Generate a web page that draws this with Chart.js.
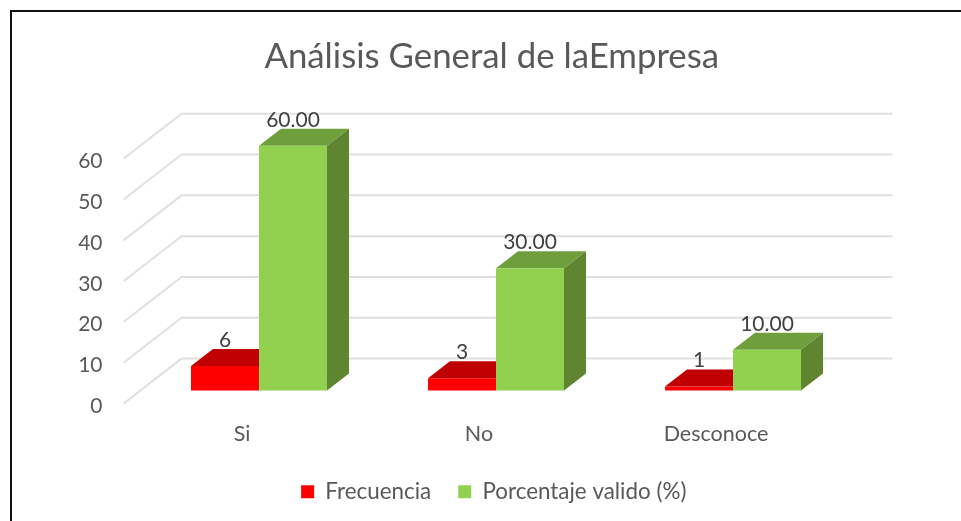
<!DOCTYPE html>
<html>
<head>
<meta charset="utf-8">
<style>
  html, body { margin: 0; padding: 0; background: #fff; overflow: hidden; }
  #frame { position: absolute; left: 10px; top: 10px; right: 0; bottom: 0; border-top: 2px solid #111; border-left: 2px solid #111; }
  #chart { position: absolute; left: 0; top: 0; filter: blur(0.4px); }
</style>
<script src="https://cdn.jsdelivr.net/npm/chart.js@4/dist/chart.umd.min.js"></script>
</head>
<body>
<canvas id="chart" width="961" height="521"></canvas>
<div id="frame"></div>
<script>
const titleText = 'Análisis General de laEmpresa';
const categories = ['Si', 'No', 'Desconoce'];
const frecuencia = [6, 3, 1];
const porcentaje = [60, 30, 10];
const frecuenciaLabels = ['6', '3', '1'];
const porcentajeLabels = ['60.00', '30.00', '10.00'];

const FONT = 'Lato, sans-serif';
const TEXT = '#595959';

// fake 3D: the axes sit on the front plane, the bars halfway into the depth
const WALL = { x: 58, y: -45 };
const BAR_SHIFT = { x: 17, y: -13 };
const BAR_DEPTH = { x: 22, y: -17 };
const faces = [
  { top: '#c00000', side: '#a00000' },
  { top: '#6f9f3c', side: '#5f8530' },
];

const poly = (ctx, points, color) => {
  ctx.fillStyle = color;
  ctx.beginPath();
  points.forEach(([x, y], i) => (i ? ctx.lineTo(x, y) : ctx.moveTo(x, y)));
  ctx.closePath();
  ctx.fill();
};

const bars3d = {
  id: 'bars3d',
  afterLayout(chart) {
    // title and legend are not centred on the canvas in the original
    chart.titleBlock.left += 74.5;
    chart.titleBlock.right += 74.5;
    chart.legend.left += 76.5;
    chart.legend.right += 76.5;
  },
  beforeDatasetsDraw(chart) {
    const { ctx, chartArea, scales } = chart;
    ctx.save();
    ctx.strokeStyle = '#e0e0e0';
    ctx.lineWidth = 2;
    scales.y.ticks.forEach((tick) => {
      const y = scales.y.getPixelForValue(tick.value);
      ctx.beginPath();
      ctx.moveTo(chartArea.left, y);
      ctx.lineTo(chartArea.left + WALL.x, y + WALL.y);
      ctx.lineTo(chartArea.right + WALL.x, y + WALL.y);
      ctx.stroke();
    });
    ctx.restore();
    ctx.save();
    ctx.translate(BAR_SHIFT.x, BAR_SHIFT.y);
    // all depth faces go first, the front faces of the bars cover them
    chart.data.datasets.forEach((ds, i) => {
      const face = faces[i];
      chart.getDatasetMeta(i).data.forEach((bar) => {
        const l = bar.x - bar.width / 2;
        const r = bar.x + bar.width / 2;
        const dx = BAR_DEPTH.x;
        const dy = BAR_DEPTH.y;
        poly(ctx, [[l, bar.y], [l + dx, bar.y + dy], [r + dx, bar.y + dy], [r, bar.y]], face.top);
        poly(ctx, [[r, bar.y], [r + dx, bar.y + dy], [r + dx, bar.base + dy], [r, bar.base]], face.side);
      });
    });
  },
  afterDatasetsDraw(chart) {
    const { ctx } = chart;
    ctx.font = '21px ' + FONT;
    ctx.fillStyle = '#404040';
    ctx.textAlign = 'center';
    ctx.textBaseline = 'middle';
    chart.data.datasets.forEach((ds, i) => {
      chart.getDatasetMeta(i).data.forEach((bar, j) => {
        ctx.fillText(ds.valueLabels[j], bar.x, bar.y - 26);
      });
    });
    ctx.restore();
  },
};

new Chart(document.getElementById('chart'), {
  type: 'bar',
  data: {
    labels: categories,
    datasets: [
      { label: 'Frecuencia', data: frecuencia, valueLabels: frecuenciaLabels, backgroundColor: '#ff0000', clip: false },
      { label: 'Porcentaje valido (%)', data: porcentaje, valueLabels: porcentajeLabels, backgroundColor: '#92d050', clip: false },
    ],
  },
  plugins: [bars3d],
  options: {
    responsive: false,
    animation: false,
    layout: { padding: { left: 0, right: 126.5, top: 0, bottom: 8 } },
    datasets: { bar: { categoryPercentage: 0.574, barPercentage: 1 } },
    plugins: {
      title: {
        display: true,
        text: titleText,
        color: TEXT,
        font: { family: FONT, size: 34.8, weight: 'normal' },
        padding: { top: 36, bottom: 81 },
      },
      legend: {
        position: 'bottom',
        labels: {
          color: TEXT,
          font: { family: FONT, size: 22.4 },
          boxWidth: 13,
          boxHeight: 13,
          padding: 27,
        },
      },
      tooltip: { enabled: false },
    },
    scales: {
      x: {
        grid: { display: false },
        border: { display: false },
        afterFit(scale) { scale.height = 50; },
        ticks: { color: TEXT, font: { family: FONT, size: 21.5 }, padding: 10 },
      },
      y: {
        min: 0,
        max: 60,
        grid: { display: false },
        border: { display: false },
        afterFit(scale) { scale.width = 123.5; },
        ticks: {
          color: TEXT,
          stepSize: 10,
          // empty first line with a tiny line height nudges the number down a bit
          callback: (value) => ['', String(value)],
          font: { family: FONT, size: 21, lineHeight: 0.25 },
          padding: 13,
        },
      },
    },
  },
});
</script>
</body>
</html>
